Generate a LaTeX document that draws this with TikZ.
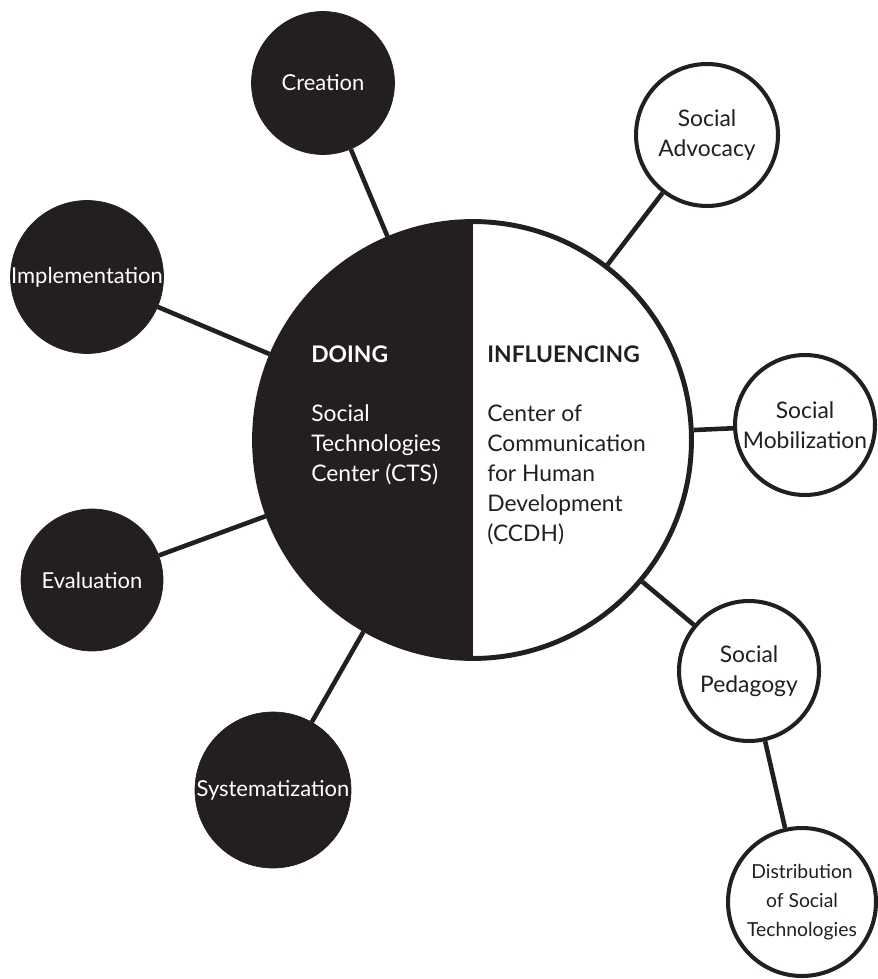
\documentclass[tikz,border=0pt]{standalone}
\usepackage{fontspec}
\setmainfont{Lato}
\usetikzlibrary{positioning}
\definecolor{ink}{HTML}{231F20}

\begin{document}
\begin{tikzpicture}[x=0.02cm,y=-0.02cm,% pixel grid, y runs down
        every node/.style={font=\fontsize{13}{17}\selectfont,inner sep=0pt},
        hub/.style={circle,draw=ink,line width=2.8pt,minimum size=8.74cm},
        darkball/.style={circle,fill=ink,draw=ink,text=white,align=center,font=\fontsize{12.5}{17}\selectfont},
        lightball/.style={circle,fill=white,draw=ink,line width=2.3pt,text=ink,align=center},
        link/.style={draw=ink,line width=2.6pt},
        blurb/.style={align=left,anchor=north west}]
\useasboundingbox (0,0) rectangle (877,979);

\node[hub,path picture={\fill[ink] (path picture bounding box.north west) rectangle (path picture bounding box.south);}] (main) at (473,440) {}; % left half filled

\node[blurb,text=white] (doing) at (311,345) {\textbf{DOING}\\[17pt]Social\\Technologies\\Center (CTS)};
\node[blurb,text=ink] (influencing) at (487,345) {\textbf{INFLUENCING}\\[17pt]Center of\\Communication\\for Human\\Development\\(CCDH)};

% doing side
\foreach \nm/\x/\y/\d/\txt in {crea/323/83/2.86/Creation,impl/87/277/3.04/Implementation,eval/92/580/2.84/Evaluation,syst/273/790/3.12/Systematization}{
  \node[darkball,minimum size=\d cm] (\nm) at (\x,\y) {\txt};
  \draw[link] (main) -- (\nm);
}
% influencing side
\foreach \nm/\x/\y/\d/\txt in {advo/707/135/2.84/{Social\\Advocacy},mobi/805/425/2.8/{Social\\Mobilization},peda/749/671/2.8/{Social\\Pedagogy}}{
  \node[lightball,minimum size=\d cm] (\nm) at (\x,\y) {\txt};
  \draw[link] (main) -- (\nm);
}
\node[lightball,minimum size=2.96cm,font=\fontsize{11}{16.5}\selectfont] (dist) at (802,902) {Distribution\\of Social\\Technologies};
\draw[link] (peda) -- (dist);
\end{tikzpicture}
\end{document}
